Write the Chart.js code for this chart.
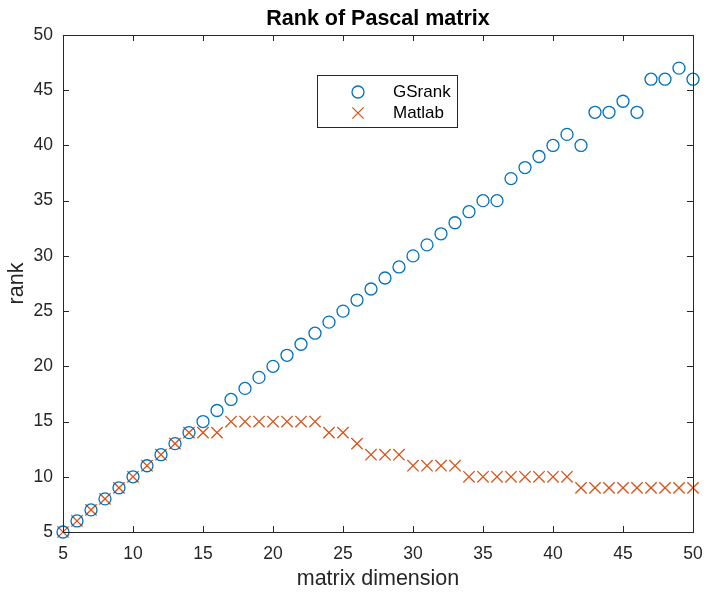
<!DOCTYPE html>
<html>
<head>
<meta charset="utf-8">
<script src="https://cdn.jsdelivr.net/npm/chart.js@4/dist/chart.umd.min.js"></script>
<style>
  html, body { margin: 0; padding: 0; background: #fff; }
  #wrap { width: 707px; height: 594px; }
</style>
</head>
<body>
<div id="wrap"><canvas id="c" width="707" height="594"></canvas></div>
<script>
// Matrix dimensions n = 5..50
const dimensions = [5,6,7,8,9,10,11,12,13,14,15,16,17,18,19,20,21,22,23,24,25,26,27,28,29,30,
                    31,32,33,34,35,36,37,38,39,40,41,42,43,44,45,46,47,48,49,50];
// Rank computed by GSrank
const gsRank = [5,6,7,8,9,10,11,12,13,14,15,16,17,18,19,20,21,22,23,24,25,26,27,28,29,30,
                31,32,33,34,35,35,37,38,39,40,41,40,43,43,44,43,46,46,47,46];
// Rank reported by Matlab's rank()
const matlabRank = [5,6,7,8,9,10,11,12,13,14,14,14,15,15,15,15,15,15,15,14,14,13,12,12,12,11,
                    11,11,11,10,10,10,10,10,10,10,10,9,9,9,9,9,9,9,9,9];
const axisTicks = [5,10,15,20,25,30,35,40,45,50];

const FONT = "Liberation Sans, Arial, Helvetica, sans-serif";
const AXIS_COLOR = '#262626';
const BLUE = '#0072BD';
const ORANGE = '#D95319';

const toPoints = (ys) => dimensions.map((x, i) => ({ x, y: ys[i] }));

// Box around the axes with inward tick marks on all four sides, plus title and legend
const boxPlugin = {
  id: 'boxAxes',
  afterDraw(chart) {
    const { ctx, chartArea: a, scales } = chart;
    const tl = 6;
    ctx.save();
    ctx.strokeStyle = AXIS_COLOR;
    ctx.lineWidth = 1;
    ctx.strokeRect(a.left + 0.5, a.top + 0.5, a.right - a.left, a.bottom - a.top);
    ctx.beginPath();
    axisTicks.forEach(v => {
      const x = Math.round(scales.x.getPixelForValue(v)) + 0.5;
      ctx.moveTo(x, a.bottom); ctx.lineTo(x, a.bottom - tl);
      ctx.moveTo(x, a.top); ctx.lineTo(x, a.top + tl);
      const y = Math.round(scales.y.getPixelForValue(v)) + 0.5;
      ctx.moveTo(a.left, y); ctx.lineTo(a.left + tl, y);
      ctx.moveTo(a.right, y); ctx.lineTo(a.right - tl, y);
    });
    ctx.stroke();

    // title
    ctx.fillStyle = '#000';
    ctx.font = 'bold 21.5px ' + FONT;
    ctx.textAlign = 'center';
    ctx.textBaseline = 'alphabetic';
    ctx.fillText('Rank of Pascal matrix', (a.left + a.right) / 2, 25);

    // legend
    const lx = 317, ly = 75, lw = 140, lh = 52;
    ctx.fillStyle = '#fff';
    ctx.fillRect(lx, ly, lw, lh);
    ctx.strokeStyle = AXIS_COLOR;
    ctx.strokeRect(lx + 0.5, ly + 0.5, lw, lh);
    chart.data.datasets.forEach((ds, i) => {
      const cy = 92 + i * 21;
      ctx.strokeStyle = ds.borderColor;
      ctx.lineWidth = ds.borderWidth;
      Chart.helpers.drawPoint(ctx, { pointStyle: ds.pointStyle, radius: ds.pointRadius, borderWidth: ds.borderWidth }, 358, cy);
      ctx.fillStyle = '#000';
      ctx.font = '17px ' + FONT;
      ctx.textAlign = 'left';
      ctx.textBaseline = 'middle';
      ctx.fillText(ds.label, 393, cy);
    });
    ctx.restore();
  }
};

new Chart(document.getElementById('c'), {
  type: 'scatter',
  data: {
    datasets: [
      {
        label: 'GSrank',
        data: toPoints(gsRank),
        pointStyle: 'circle',
        pointRadius: 6,
        pointHoverRadius: 6,
        borderWidth: 1.3,
        borderColor: BLUE,
        backgroundColor: 'rgba(0,0,0,0)',
        clip: false
      },
      {
        label: 'Matlab',
        data: toPoints(matlabRank),
        pointStyle: 'crossRot',
        pointRadius: 8,
        pointHoverRadius: 8,
        borderWidth: 1.3,
        borderColor: ORANGE,
        backgroundColor: ORANGE,
        clip: false
      }
    ]
  },
  options: {
    responsive: false,
    animation: false,
    events: [],
    layout: { padding: { left: 0, top: 35, right: 14, bottom: 0 } },
    plugins: { legend: { display: false }, tooltip: { enabled: false }, title: { display: false } },
    scales: {
      x: {
        type: 'linear',
        min: 5, max: 50,
        afterBuildTicks: (s) => { s.ticks = axisTicks.map(v => ({ value: v })); },
        afterFit: (s) => { s.height = 62; s.paddingLeft = 0; s.paddingRight = 0; },
        grid: { display: false, drawTicks: false },
        border: { display: false },
        ticks: { padding: 12, color: AXIS_COLOR, font: { family: FONT, size: 17.5 }, maxRotation: 0, autoSkip: false },
        title: { display: true, text: 'matrix dimension', color: AXIS_COLOR, font: { family: FONT, size: 21.5 }, padding: { top: 0, bottom: 2 } }
      },
      y: {
        type: 'linear',
        min: 5, max: 50,
        afterBuildTicks: (s) => { s.ticks = axisTicks.map(v => ({ value: v })); },
        afterFit: (s) => { s.width = 63; s.paddingTop = 0; s.paddingBottom = 0; },
        grid: { display: false, drawTicks: false },
        border: { display: false },
        ticks: { padding: 10, color: AXIS_COLOR, font: { family: FONT, size: 17.5 }, autoSkip: false },
        title: { display: true, text: 'rank', color: AXIS_COLOR, font: { family: FONT, size: 21.5 }, padding: { top: 4, bottom: 0 } }
      }
    }
  },
  plugins: [boxPlugin]
});
</script>
</body>
</html>
